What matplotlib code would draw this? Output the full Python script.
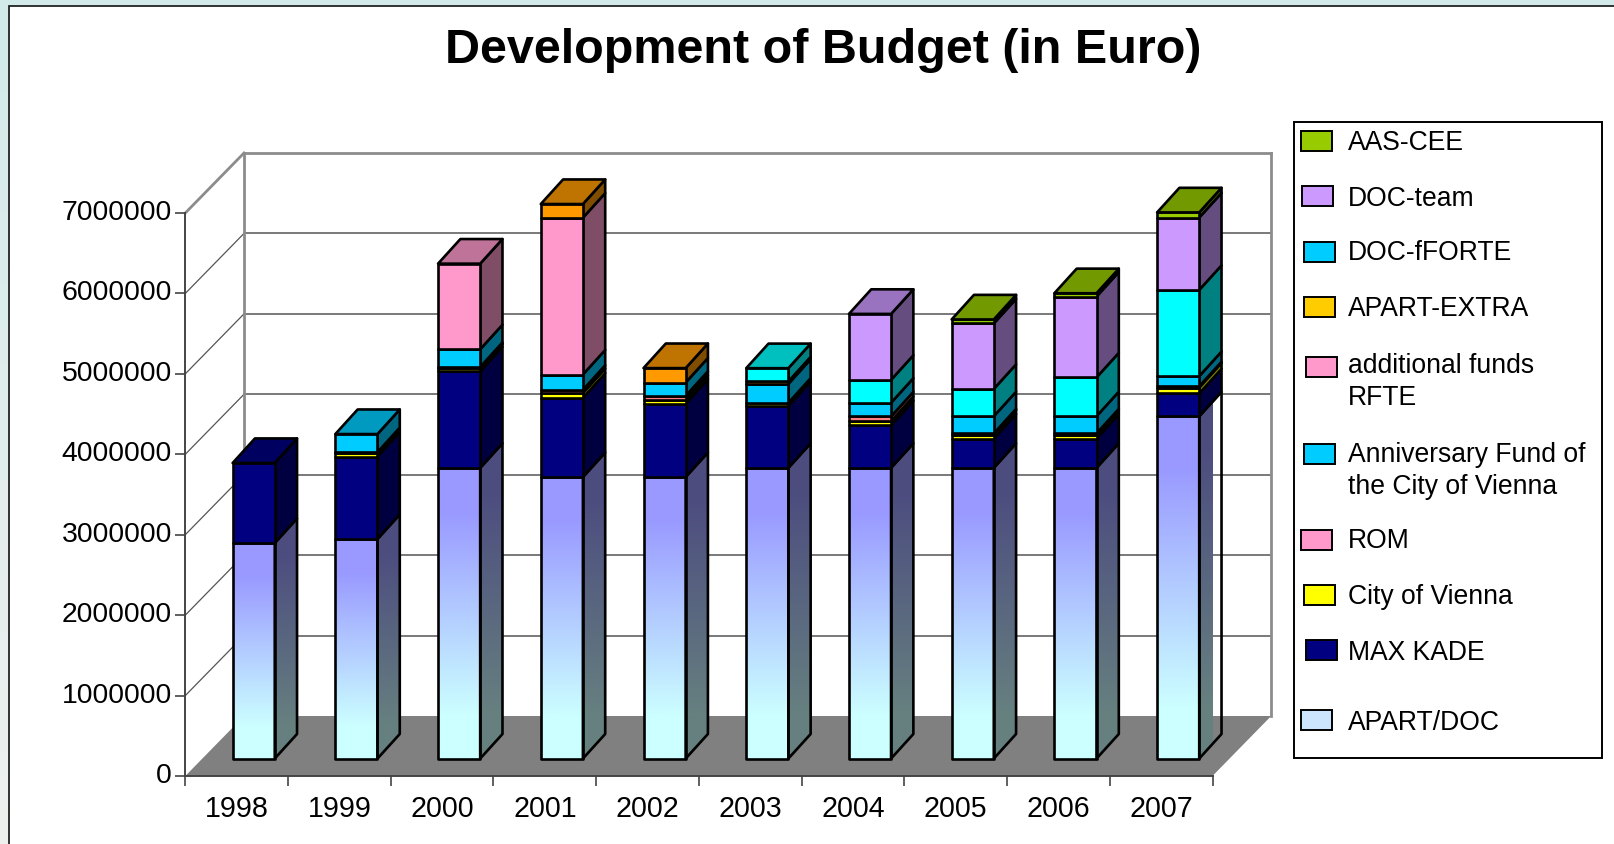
import numpy as np
import matplotlib
matplotlib.use("Agg")
import matplotlib.pyplot as plt
from matplotlib.patches import Polygon, Rectangle
from matplotlib.colors import to_rgb, LinearSegmentedColormap
from matplotlib.transforms import ScaledTranslation

plt.rcParams['font.family'] = ['Liberation Sans', 'DejaVu Sans']

years = ['1998', '1999', '2000', '2001', '2002', '2003', '2004', '2005', '2006', '2007']
title = 'Development of Budget (in Euro)'

apart_doc = [2680000, 2730000, 3614000, 3500000, 3500000, 3614000, 3614000, 3614000, 3614000, 4255000]
max_kade  = [995000, 1025000, 1200000, 985000, 910000, 770000, 530000, 364000, 364000, 285000]
city_vienna = [0, 40000, 40000, 60000, 50000, 40000, 50000, 50000, 50000, 74000]
rom       = [0, 15000, 15000, 40000, 50000, 0, 60000, 15000, 15000, 15000]
anniversary = [0, 225000, 220000, 190000, 165000, 235000, 170000, 213000, 213000, 126000]
additional = [0, 0, 1065000, 1950000, 0, 0, 0, 0, 0, 0]
apart_extra = [0, 0, 0, 170000, 180000, 30000, 0, 0, 0, 0]
doc_fforte = [0, 0, 0, 0, 0, 165000, 285000, 340000, 483000, 1072000]
doc_team  = [0, 0, 0, 0, 0, 0, 820000, 814000, 1005000, 900000]
aas_cee   = [0, 0, 0, 0, 0, 0, 0, 50000, 42000, 64000]

upper_series = [max_kade, city_vienna, rom, anniversary, additional,
                apart_extra, doc_fforte, doc_team, aas_cee]
upper_colors = ['#000080', '#FFFF00', '#FF8080', '#00CCFF', '#FF99CC',
                '#FF9900', '#00FFFF', '#CC99FF', '#99CC00']

legend_labels = ['AAS-CEE', 'DOC-team', 'DOC-fFORTE', 'APART-EXTRA', 'additional funds\nRFTE',
                 'Anniversary Fund of\nthe City of Vienna', 'ROM', 'City of Vienna', 'MAX KADE', 'APART/DOC']
legend_colors = ['#99CC00', '#CC99FF', '#00CCFF', '#FFCC00', '#FF99CC',
                 '#00CCFF', '#FF99CC', '#FFFF00', '#000080', '#CCE5FF']
legend_swatch_x = [1301, 1302, 1303.5, 1303.5, 1305.5, 1303.5, 1301, 1303.5, 1305.5, 1301]
legend_swatch_y = [141, 196, 252, 307, 367, 454, 540, 595, 650, 720]
legend_text_y = [143.5, 198.5, 253.5, 309, 382, 471.5, 541.5, 597, 653, 723.5]

W, H = 1614, 844
fig = plt.figure(figsize=(W / 100, H / 100), dpi=100)

# page background with soft vertical gradient + white chart area
bg = fig.add_axes([0, 0, 1, 1], zorder=0)
bg.set_xlim(0, W); bg.set_ylim(H, 0); bg.axis('off')
bg.imshow(np.linspace(0, 1, 256).reshape(-1, 1), extent=(0, W, H, 0), aspect='auto',
          cmap=LinearSegmentedColormap.from_list('p', ['#D2EAEA', '#EEF0EE']), vmin=0, vmax=1)
bg.add_patch(Rectangle((8.5, 5.5), W, H, fc='white', ec='#222222', lw=1.3))
bg.set_xlim(0, W); bg.set_ylim(H, 0)

# main axes: the front plane of the 3-D box
FX0, FX1, FY0, FY7 = 185.3, 1212.5, 776.0, 213.0
ax = fig.add_axes([FX0 / W, 1 - FY0 / H, (FX1 - FX0) / W, (FY0 - FY7) / H], zorder=1)
ax.patch.set_alpha(0)
N = len(years)
ax.set_xlim(0, N)
ax.set_ylim(0, 7000000)

px_x = (FX1 - FX0) / N
px_y = (FY0 - FY7) / 7000000
DX = 58.7 / px_x      # full depth of the box, in category units
DY = 60.0 / px_y      # full depth of the box, in value units


def proj(x, z, v, zy=None):
    return (x + z * DX, v + (z if zy is None else zy) * DY)


# floor
ax.add_patch(Polygon([proj(0, 0, 0), proj(N, 0, 0), proj(N, 1, 0), proj(0, 1, 0)],
                     fc='#808080', ec='none', clip_on=False, zorder=1))
# gridlines: side wall and back wall
for v in range(1000000, 7000001, 1000000):
    col = '#8c8c8c' if v == 7000000 else '#555555'
    ax.plot(*zip(proj(0, 0, v), proj(0, 1, v)), color=col, lw=2.0 if v == 7000000 else 0.9,
            clip_on=False, zorder=1)
    ax.plot(*zip(proj(0, 1, v), proj(N, 1, v)), color=col, lw=2.0 if v == 7000000 else 1.1,
            clip_on=False, zorder=1)
ax.plot(*zip(proj(0, 1, 0), proj(0, 1, 7000000)), color='#8c8c8c', lw=2.0, clip_on=False, zorder=1)
ax.plot(*zip(proj(N, 1, 0), proj(N, 1, 7000000)), color='#8c8c8c', lw=2.0, clip_on=False, zorder=1)

BW = 0.41
Z0, Z1, Z1Y = 0.29, 0.67, 0.70


def shade(c, f):
    return tuple(f * np.array(to_rgb(c)))


def grad(poly, x0, x1, v0, v1, lo, hi, zo):
    """Vertical gradient clipped to a polygon given in data coordinates."""
    cmap = LinearSegmentedColormap.from_list('g', [(0, lo), (0.15, lo), (0.85, hi), (1, hi)], N=256)
    im = ax.imshow(np.linspace(0, 1, 256).reshape(-1, 1), origin='lower', aspect='auto',
                   extent=(x0, x1, v0, v1), cmap=cmap, vmin=0, vmax=1, zorder=zo)
    patch = Polygon(poly, transform=ax.transData, fc='none', ec='none')
    ax.add_patch(patch)
    im.set_clip_path(patch)
    im.set_clip_on(True)


EDGE = dict(ec='black', lw=1.9, joinstyle='round', clip_on=False)

for i in range(N):
    zo = 3 + i
    xl = i + 0.5 - BW / 2
    xr = i + 0.5 + BW / 2
    # base segment with gradient
    top = apart_doc[i]
    front = [proj(xl, Z0, 0), proj(xr, Z0, 0), proj(xr, Z0, top), proj(xl, Z0, top)]
    side = [proj(xr, Z0, 0), proj(xr, Z1, 0, Z1Y), proj(xr, Z1, top, Z1Y), proj(xr, Z0, top)]
    vb = proj(0, Z0, 0)[1]
    vt = proj(0, Z0, top)[1]
    grad(side, side[0][0], side[1][0], vb, proj(0, Z1, top, Z1Y)[1],
         shade('#CCFFFF', 0.5), shade('#9999FF', 0.5), zo)
    grad(front, xl + Z0 * DX, xr + Z0 * DX, vb, vt, '#CCFFFF', '#9999FF', zo)
    ax.add_patch(Polygon(side, fc='none', zorder=zo, **EDGE))
    ax.add_patch(Polygon(front, fc='none', zorder=zo, **EDGE))
    base = top
    last_color = '#9999FF'
    for ser, c in zip(upper_series, upper_colors):
        val = ser[i]
        if val <= 0:
            continue
        t = base + val
        ax.add_patch(Polygon([proj(xr, Z0, base), proj(xr, Z1, base, Z1Y), proj(xr, Z1, t, Z1Y), proj(xr, Z0, t)],
                             fc=shade(c, 0.5), zorder=zo, **EDGE))
        ax.add_patch(Polygon([proj(xl, Z0, base), proj(xr, Z0, base), proj(xr, Z0, t), proj(xl, Z0, t)],
                             fc=c, zorder=zo, **EDGE))
        base = t
        last_color = c
    ax.add_patch(Polygon([proj(xl, Z0, base), proj(xr, Z0, base), proj(xr, Z1, base, Z1Y), proj(xl, Z1, base, Z1Y)],
                         fc=shade(last_color, 0.75), zorder=zo, **EDGE))

# real axes: left and bottom only
for s in ('top', 'right'):
    ax.spines[s].set_visible(False)
for s in ('left', 'bottom'):
    ax.spines[s].set_color('#444444')
    ax.spines[s].set_linewidth(1.4)
    ax.spines[s].set_zorder(2)
ax.set_yticks(np.arange(0, 7000001, 1000000))
ax.set_yticklabels([str(v) for v in range(0, 7000001, 1000000)])
ax.set_xticks(np.arange(0, N + 1))
ax.set_xticklabels([])
ax.set_xticks(np.arange(N) + 0.5, minor=True)
ax.set_xticklabels(years, minor=True)
ax.tick_params(axis='y', length=7, width=1.2, color='#444444', labelsize=20.4, pad=2.5, labelcolor='black')
ax.tick_params(axis='x', which='major', length=7, width=1.2, color='#444444')
ax.tick_params(axis='x', which='minor', length=0, labelsize=20.6, pad=14, labelcolor='black')
shift = ScaledTranslation(0, 3.0 / 100, fig.dpi_scale_trans)
for lab in ax.get_yticklabels():
    lab.set_transform(lab.get_transform() + shift)
ax.set_xlim(0, N)
ax.set_ylim(0, 7000000)

# overlay in pixel coordinates for the title and legend
ov = fig.add_axes([0, 0, 1, 1], zorder=5)
ov.set_xlim(0, W); ov.set_ylim(H, 0); ov.axis('off'); ov.patch.set_alpha(0)
ov.text(823.5, 50.5, title, ha='center', va='center', fontsize=34.9, fontweight='bold', color='black')
ov.add_patch(Rectangle((1294, 121.5), 307.5, 636, fc='white', ec='black', lw=1.4))
for lab, c, sx, sy, ty in zip(legend_labels, legend_colors, legend_swatch_x, legend_swatch_y, legend_text_y):
    ov.add_patch(Rectangle((sx, sy - 10), 31, 20, fc=c, ec='black', lw=1.4))
    ov.text(1348, ty, lab, ha='left', va='center', fontsize=19.1,
            color='black', linespacing=1.3)

fig.savefig('out.png', dpi=100)
